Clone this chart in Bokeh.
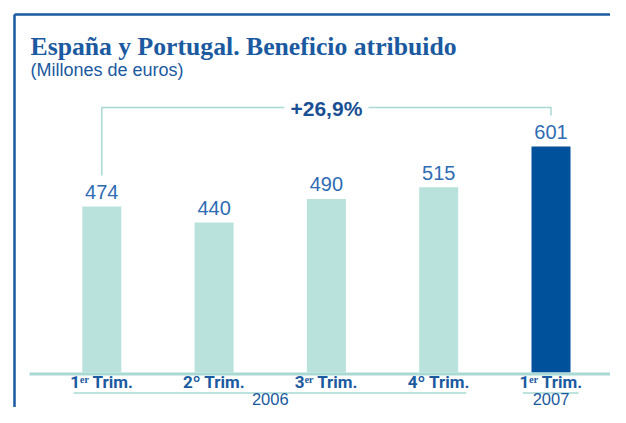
from bokeh.plotting import figure
from bokeh.models import Range1d
from bokeh.embed import file_html
from bokeh.resources import INLINE
from bokeh.core.properties import value

# ---- data ----
quarters = ["1ᵉʳ Trim.", "2º Trim.", "3ᵉʳ Trim.", "4º Trim.", "1ᵉʳ Trim."]
quarter_year = ["2006", "2006", "2006", "2006", "2007"]
profit = [474, 440, 490, 515, 601]
years = ["2006", "2007"]
growth_label = "+26,9%"
title = "España y Portugal. Beneficio atribuido"
subtitle = "(Millones de euros)"

# ---- styles ----
LIGHT = "#b9e2dc"
DARK = "#00519c"
TEAL = "#a8dad3"
BLUE = "#1b5aa0"
MID_BLUE = "#2f6cb3"
year_color = {"2006": LIGHT, "2007": DARK}

W, H = 610, 407
X0, XS = 101.3, 112.3          # px of first bar centre, px per bar step
BASE, BASE_PY, YS = 122.6, 372.0, 0.4724   # value at baseline, its px y, px per unit
TXT = 7.5                        # text baseline correction (px)

x_start = -X0 / XS
x_end = (W - X0) / XS
y_top = BASE + BASE_PY / YS
y_bot = BASE - (H - BASE_PY) / YS


def dx(px):
    return (px - X0) / XS


def dy(py):
    return BASE + (BASE_PY - py) / YS


def ty(py):
    return dy(py - TXT)


p = figure(width=W, height=H, output_backend="svg", toolbar_location=None,
           x_range=Range1d(x_start, x_end), y_range=Range1d(y_bot, y_top),
           x_axis_location=None, y_axis_location=None, min_border=0,
           outline_line_color=None, background_fill_color="white",
           border_fill_color="white")
p.grid.visible = False

idx = list(range(len(profit)))
colors = [year_color[y] for y in quarter_year]

# frame border
p.line([dx(14), dx(700)], [dy(14), dy(14)], line_color=BLUE, line_width=2.5)
p.line([dx(14), dx(14)], [dy(14), dy(500)], line_color=BLUE, line_width=2.5)

# title
p.text(x=[dx(30)], y=[ty(53)], text=[title], text_font=value("Liberation Serif"),
       text_font_style="bold", text_font_size="25.7px", text_color=BLUE,
       text_align="left", text_baseline="alphabetic")
p.text(x=[dx(30)], y=[ty(77)], text=[subtitle], text_font=value("Liberation Sans"),
       text_font_size="18px", text_color=BLUE, text_align="left",
       text_baseline="alphabetic")

# bars
bar_w = 39 / XS
p.vbar(x=idx, top=profit, bottom=BASE, width=bar_w, fill_color=colors,
       line_color=None)

# baseline axis line
p.segment(x0=[dx(29)], x1=[dx(622)], y0=[dy(373.5)], y1=[dy(373.5)],
          line_color=TEAL, line_width=3)

# value labels
p.text(x=idx, y=profit, text=[str(v) for v in profit], y_offset=-7 - TXT,
       text_font=value("Liberation Sans"), text_font_size="20px",
       text_color=MID_BLUE, text_align="center", text_baseline="alphabetic")

# growth bracket
i0, i1 = idx[0], idx[-1]
mid = (i0 + i1) / 2
gap = 42 / XS
ytop = dy(107)
off = 31 / YS
p.line([i0, i0, mid - gap], [profit[0] + off, ytop, ytop], line_color=TEAL, line_width=1.5)
p.line([mid + gap, i1, i1], [ytop, ytop, profit[-1] + off], line_color=TEAL, line_width=1.5)
p.text(x=[mid], y=[ty(115)], text=[growth_label], text_font=value("Liberation Sans"),
       text_font_style="bold", text_font_size="21px", text_color="#1a4f94",
       text_align="center", text_baseline="alphabetic")

# quarter labels
p.text(x=idx, y=[ty(389)] * len(idx), text=quarters,
       text_font=value("Roboto"),
       text_font_style="bold", text_font_size="17px", text_color=BLUE,
       text_align="center", text_baseline="alphabetic")

# year groups
spans = []
for yname in years:
    members = [i for i, y in zip(idx, quarter_year) if y == yname]
    spans.append((min(members), max(members)))
p.segment(x0=[s - 0.25 for s, e in spans], x1=[e + 0.245 for s, e in spans],
          y0=[dy(392.5)] * len(spans), y1=[dy(392.5)] * len(spans),
          line_color=TEAL, line_width=1.5)
p.text(x=[(s + e) / 2 for s, e in spans], y=[ty(406)] * len(spans), text=years,
       text_font=value("Liberation Sans"), text_font_size="16.5px", text_color=BLUE,
       text_align="center", text_baseline="alphabetic")

open("out.html", "w").write(file_html(p, INLINE))
